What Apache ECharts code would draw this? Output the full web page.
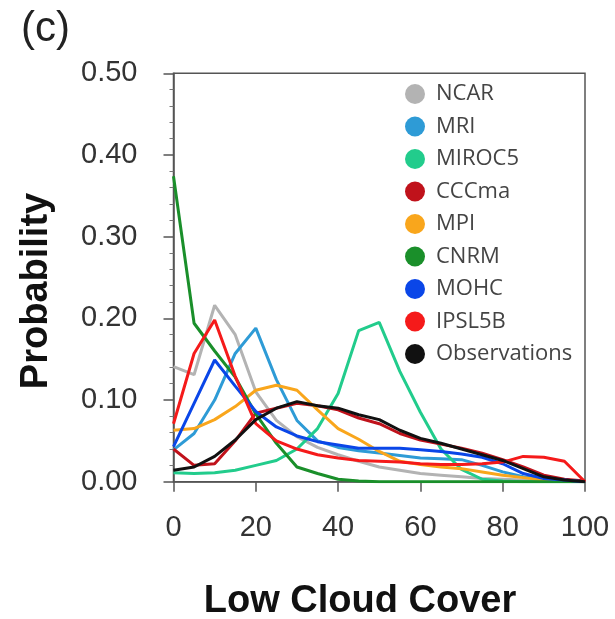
<!DOCTYPE html>
<html>
<head>
<meta charset="utf-8">
<script src="https://cdn.jsdelivr.net/npm/echarts@6/dist/echarts.min.js"></script>
<style>html,body{margin:0;padding:0;background:#fff;}#c{width:615px;height:619px;}</style>
</head>
<body>
<div id="c"></div>
<script>
var xs = [0,5,10,15,20,25,30,35,40,45,50,55,60,65,70,75,80,85,90,95,100];
var seriesNames = ['NCAR','MRI','MIROC5','CCCma','MPI','CNRM','MOHC','IPSL5B','Observations'];
var NCAR   = [0.141,0.131,0.216,0.180,0.110,0.075,0.055,0.042,0.033,0.025,0.018,0.014,0.010,0.008,0.006,0.004,0.003,0.002,0.001,0.0005,0];
var MRI    = [0.039,0.059,0.100,0.157,0.188,0.125,0.075,0.050,0.042,0.038,0.035,0.032,0.029,0.028,0.027,0.020,0.012,0.006,0.003,0.001,0];
var MIROC5 = [0.011,0.010,0.011,0.014,0.020,0.026,0.040,0.065,0.108,0.185,0.195,0.135,0.085,0.040,0.015,0.003,0.001,0,0,0,0];
var CCCma  = [0.040,0.020,0.022,0.050,0.084,0.090,0.096,0.093,0.088,0.078,0.071,0.059,0.051,0.046,0.041,0.035,0.027,0.018,0.008,0.003,0.001];
var MPI    = [0.063,0.065,0.076,0.092,0.112,0.118,0.112,0.088,0.065,0.052,0.037,0.025,0.021,0.018,0.016,0.012,0.008,0.005,0.002,0.001,0];
var CNRM   = [0.374,0.194,0.160,0.128,0.083,0.047,0.018,0.010,0.003,0.001,0,0,0,0,0,0,0,0,0,0,0];
var MOHC   = [0.043,0.096,0.149,0.117,0.086,0.067,0.056,0.049,0.045,0.041,0.041,0.041,0.039,0.037,0.034,0.030,0.022,0.010,0.004,0.002,0];
var IPSL5B = [0.071,0.157,0.198,0.129,0.071,0.050,0.040,0.033,0.029,0.026,0.025,0.024,0.022,0.021,0.021,0.022,0.024,0.031,0.030,0.025,0];
var Observations = [0.014,0.018,0.031,0.051,0.076,0.090,0.098,0.093,0.090,0.082,0.076,0.063,0.053,0.047,0.040,0.033,0.026,0.016,0.006,0.002,0];
var yTicks = [0,0.1,0.2,0.3,0.4,0.5];
var xTicks = [0,20,40,60,80,100];

var values = [NCAR,MRI,MIROC5,CCCma,MPI,CNRM,MOHC,IPSL5B,Observations];
var colors = ['#b3b3b3','#2e9bd6','#22cc8c','#c0121b','#f9a61c','#1a8f2a','#0a46e8','#f51a1a','#111111'];

var chart = echarts.init(document.getElementById('c'), null, {renderer:'canvas'});
var series = seriesNames.map(function(n,i){
  return {
    name:n, type:'line', showSymbol:false, symbol:'circle', smooth:false,
    lineStyle:{width:3, color:colors[i]}, itemStyle:{color:colors[i]},
    data: xs.map(function(x,j){return [x, values[i][j]];})
  };
});
chart.setOption({
  animation:false,
  backgroundColor:'#fff',
  grid:{left:173.5, right:30, top:73.3, bottom:137.3, show:true, borderColor:'#555', borderWidth:1.5, backgroundColor:'transparent'},
  legend:{
    orient:'vertical', left:400, top:78, icon:'circle', itemWidth:20, itemHeight:20, itemGap:10.5,
    data:seriesNames,
    textStyle:{fontFamily:'Open Sans', fontSize:22, color:'#444', lineHeight:20, padding:[0,0,0,6]}
  },
  xAxis:{
    type:'value', min:0, max:100, interval:20,
    axisLine:{lineStyle:{color:'#555', width:1.5}},
    axisTick:{length:10, lineStyle:{color:'#555', width:1.5}},
    splitLine:{show:false},
    axisLabel:{margin:32, fontFamily:'Liberation Sans', fontSize:29, color:'#333',
      formatter:function(v){return xTicks.indexOf(v)>=0 ? String(v) : '';}}
  },
  yAxis:{
    type:'value', min:0, max:0.5, interval:0.1,
    axisLine:{show:true, lineStyle:{color:'#555', width:1.5}},
    axisTick:{show:true, length:10, lineStyle:{color:'#555', width:1.5}},
    minorTick:{show:true, splitNumber:5, length:4, lineStyle:{color:'#777', width:1}},
    splitLine:{show:false},
    axisLabel:{margin:36, fontFamily:'Liberation Sans', fontSize:29, color:'#333',
      formatter:function(v){return v.toFixed(2);}}
  },
  graphic:[
    {type:'text', left:21, top:8, style:{text:'(c)', font:'42px "Liberation Sans"', fill:'#222'}},
    {type:'text', x:37, y:291, rotation:Math.PI/2, style:{text:'Probability', font:'bold 38px "Liberation Sans"', fill:'#111', align:'center', verticalAlign:'middle'}},
    {type:'text', x:360, y:602, style:{text:'Low Cloud Cover', font:'bold 38px "Liberation Sans"', fill:'#111', align:'center', verticalAlign:'middle'}}
  ],
  series:series
});
</script>
</body>
</html>
